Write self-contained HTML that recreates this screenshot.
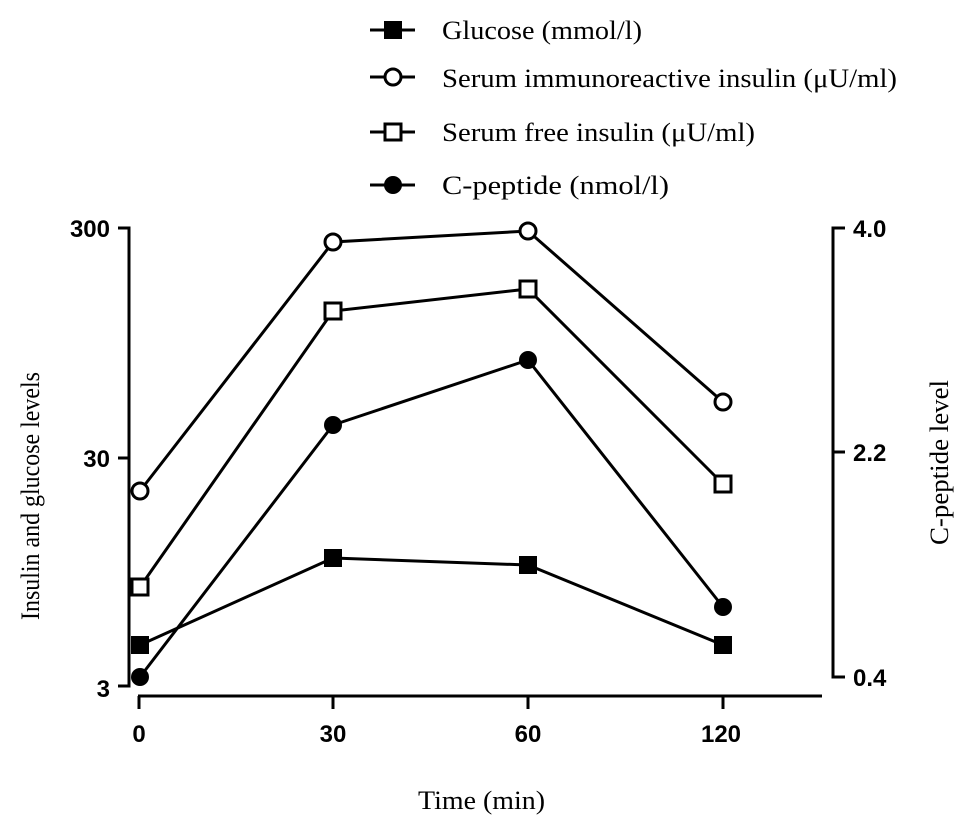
<!DOCTYPE html>
<html><head><meta charset="utf-8"><style>body{margin:0;background:#fff}svg{display:block}</style></head>
<body>
<svg width="969" height="829" viewBox="0 0 969 829" xmlns="http://www.w3.org/2000/svg">
<g stroke="#000" stroke-width="3" fill="none">
<line x1="370" y1="30" x2="415" y2="30"/><line x1="370" y1="77" x2="415" y2="77"/>
<line x1="370" y1="132" x2="415" y2="132"/><line x1="370" y1="185" x2="415" y2="185"/>
<polyline points="118,228 129,228 129,686 118,686"/>
<line x1="118" y1="458" x2="129" y2="458"/>
<polyline points="845,228 833,228 833,677 845,677"/>
<line x1="833" y1="452" x2="845" y2="452"/>
<line x1="138" y1="696" x2="822" y2="696"/>
<line x1="139" y1="696" x2="139" y2="709"/><line x1="333" y1="696" x2="333" y2="709"/>
<line x1="528" y1="696" x2="528" y2="709"/><line x1="723" y1="696" x2="723" y2="709"/>
<polyline points="140,645 333,558 528,565 723,645"/>
<polyline points="140,491 333,242 528,231 723,402"/>
<polyline points="140,587 333,311 528,289 723,484"/>
<polyline points="140,677 333,425 528,360 723,607"/>
</g>
<g fill="#000">
<rect x="384" y="21" width="18" height="18"/>
<circle cx="393" cy="185" r="9"/>
<rect x="131" y="636" width="18" height="18"/><rect x="324" y="549" width="18" height="18"/>
<rect x="519" y="556" width="18" height="18"/><rect x="714" y="636" width="18" height="18"/>
<circle cx="140" cy="677" r="9"/><circle cx="333" cy="425" r="9"/>
<circle cx="528" cy="360" r="9"/><circle cx="723" cy="607" r="9"/>
</g>
<g fill="#fff" stroke="#000" stroke-width="3">
<circle cx="393" cy="77" r="8"/>
<rect x="385" y="124" width="16" height="16"/>
<circle cx="140" cy="491" r="8"/><circle cx="333" cy="242" r="8"/>
<circle cx="528" cy="231" r="8"/><circle cx="723" cy="402" r="8"/>
<rect x="132" y="579" width="16" height="16"/><rect x="325" y="303" width="16" height="16"/>
<rect x="520" y="281" width="16" height="16"/><rect x="715" y="476" width="16" height="16"/>
</g>
<g font-family="Liberation Serif, serif" font-size="26" fill="#000">
<text x="442" y="39" textLength="200" lengthAdjust="spacingAndGlyphs">Glucose (mmol/l)</text>
<text x="442" y="87" textLength="455" lengthAdjust="spacingAndGlyphs">Serum immunoreactive insulin (μU/ml)</text>
<text x="442" y="141" textLength="313" lengthAdjust="spacingAndGlyphs">Serum free insulin (μU/ml)</text>
<text x="442" y="194" textLength="227" lengthAdjust="spacingAndGlyphs">C-peptide (nmol/l)</text>
<text x="418" y="809" textLength="127" lengthAdjust="spacingAndGlyphs">Time (min)</text>
<text transform="translate(39,620) rotate(-90)" textLength="248" lengthAdjust="spacingAndGlyphs">Insulin and glucose levels</text>
<text transform="translate(948,545) rotate(-90)" textLength="165" lengthAdjust="spacingAndGlyphs">C-peptide level</text>
</g>
<g font-family="Liberation Sans, sans-serif" font-weight="bold" font-size="24" fill="#000">
<text x="110" y="237" text-anchor="end">300</text>
<text x="110" y="467" text-anchor="end">30</text>
<text x="110" y="697" text-anchor="end">3</text>
<text x="853" y="237">4.0</text>
<text x="853" y="461">2.2</text>
<text x="853" y="686">0.4</text>
<text x="139" y="742" text-anchor="middle">0</text>
<text x="333" y="742" text-anchor="middle">30</text>
<text x="528" y="742" text-anchor="middle">60</text>
<text x="721" y="742" text-anchor="middle">120</text>
</g>
</svg>
</body></html>
